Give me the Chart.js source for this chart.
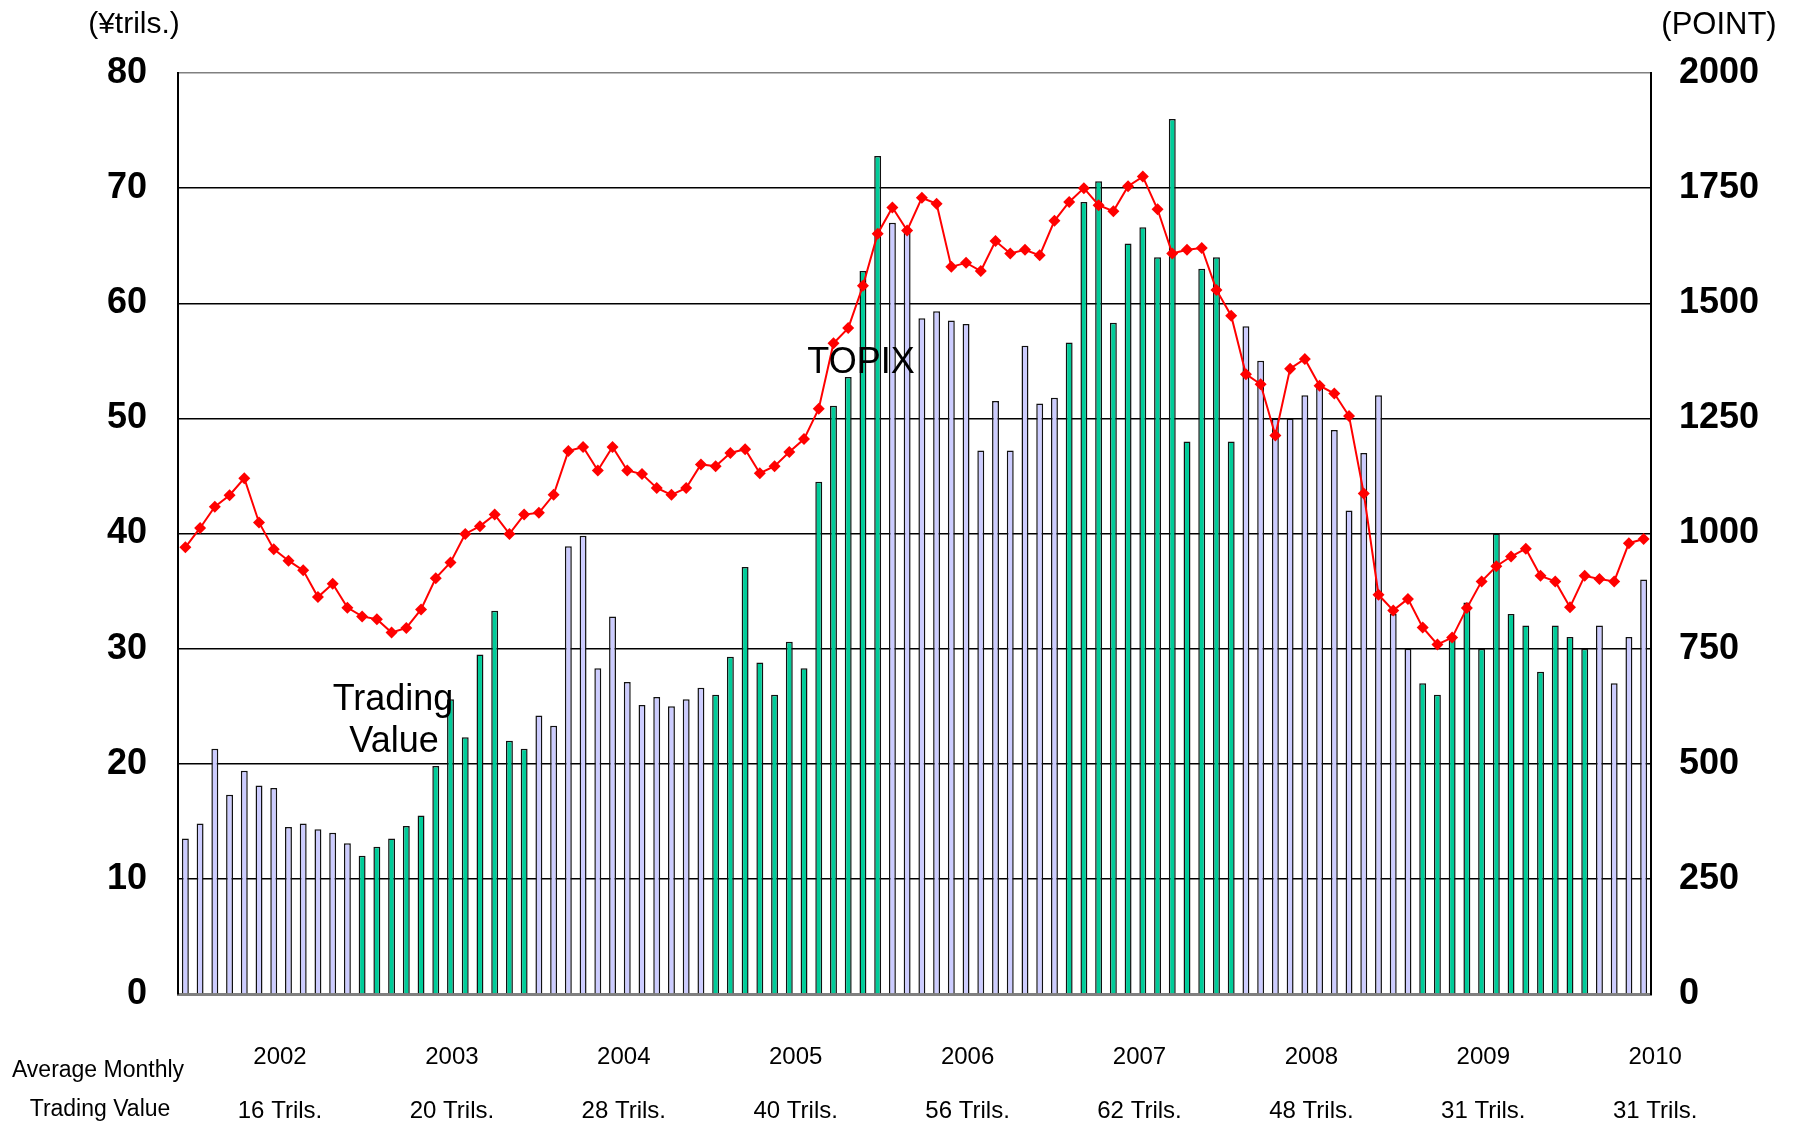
<!DOCTYPE html>
<html>
<head>
<meta charset="utf-8">
<script src="https://cdn.jsdelivr.net/npm/chart.js@4"></script>
<style>
  body { margin: 0; background: #fff; }
  canvas { display: block; }
</style>
</head>
<body>
<canvas id="chart" width="1794" height="1124"></canvas>
<script>
// monthly trading value (¥ trils.), Jan 2002 - Apr 2010
const tradingValue = [
  13.5, 14.8, 21.3, 17.3, 19.4, 18.1, 17.9, 14.5, 14.8, 14.3, 14.0, 13.1,
  12.0, 12.8, 13.5, 14.6, 15.5, 19.8, 25.6, 22.3, 29.5, 33.3, 22.0, 21.3,
  24.2, 23.3, 38.9, 39.8, 28.3, 32.8, 27.1, 25.1, 25.8, 25.0, 25.6, 26.6,
  26.0, 29.3, 37.1, 28.8, 26.0, 30.6, 28.3, 44.5, 51.1, 53.6, 62.8, 72.8,
  67.0, 66.3, 58.7, 59.3, 58.5, 58.2, 47.2, 51.5, 47.2, 56.3, 51.3, 51.8,
  56.6, 68.8, 70.6, 58.3, 65.2, 66.6, 64.0, 76.0, 48.0, 63.0, 64.0, 48.0,
  58.0, 55.0, 50.0, 50.0, 52.0, 52.7, 49.0, 42.0, 47.0, 52.0, 33.0, 30.0,
  27.0, 26.0, 30.9, 34.0, 30.0, 40.0, 33.0, 32.0, 28.0, 32.0, 31.0, 30.0,
  32.0, 27.0, 31.0, 36.0
];
// TOPIX month-end (points)
const topix = [
  970, 1012, 1058, 1083, 1120, 1024, 966, 941, 920, 862, 891, 839,
  820, 814, 785, 795, 835, 903, 937, 999, 1016, 1041, 999, 1041,
  1045, 1084, 1179, 1188, 1137, 1188, 1137, 1129, 1099, 1084, 1099, 1150,
  1146, 1175, 1183, 1131, 1146, 1177, 1205, 1271, 1413, 1446, 1538, 1651,
  1708, 1658, 1729, 1716, 1579, 1588, 1570, 1635, 1608, 1616, 1604, 1679,
  1720, 1750, 1713, 1700, 1754, 1775, 1704, 1608, 1616, 1620, 1529, 1473,
  1346, 1324, 1213, 1358, 1379, 1321, 1304, 1255, 1087, 867, 833, 858,
  796, 759, 774, 838, 896, 929, 950, 967, 908, 896, 840, 908,
  901, 896, 979, 988
];
const years = ['2002', '2003', '2004', '2005', '2006', '2007', '2008', '2009', '2010'];
const avgLabels = ['16 Trils.', '20 Trils.', '28 Trils.', '40 Trils.', '56 Trils.',
                   '62 Trils.', '48 Trils.', '31 Trils.', '31 Trils.'];

const months = tradingValue.map((v, i) => years[Math.floor(i / 12)] + '/' + (i % 12 + 1));
const barColors = months.map((m, i) => Math.floor(i / 12) % 2 === 0 ? '#ccccff' : '#00cc99');

const FONT = 'Arial, "Liberation Sans", sans-serif';
Chart.defaults.font.family = FONT;
Chart.defaults.color = '#000';

// texts around the plot
const textPlugin = {
  id: 'texts',
  afterDraw(chart) {
    const c = chart.ctx;
    c.save();
    c.fillStyle = '#000';
    c.textAlign = 'center';
    c.textBaseline = 'middle';
    c.font = '30px ' + FONT;
    c.fillText('(¥trils.)', 134, 25);
    c.font = '31px ' + FONT;
    c.fillText('(POINT)', 1719, 25);
    c.font = '36px ' + FONT;
    c.fillText('TOPIX', 861, 363);
    c.fillText('Trading', 393, 700);
    c.fillText('Value', 394, 742);
    c.font = '23px ' + FONT;
    c.fillText('Average Monthly', 98, 1071);
    c.fillText('Trading Value', 100, 1110);
    c.font = '24px ' + FONT;
    years.forEach((y, i) => {
      const x = 280 + i * 171.9;
      c.fillText(y, x, 1057);
      c.fillText(avgLabels[i], x, 1111);
    });
    c.restore();
  }
};

new Chart(document.getElementById('chart'), {
  data: {
    labels: months,
    datasets: [
      {
        type: 'line',
        label: 'TOPIX',
        data: topix,
        yAxisID: 'y1',
        order: 0,
        borderColor: '#ff0000',
        borderWidth: 2,
        pointStyle: 'rectRot',
        pointRadius: 6,
        pointBackgroundColor: '#ff0000',
        pointBorderColor: '#ff0000',
        pointBorderWidth: 0,
        tension: 0
      },
      {
        type: 'bar',
        label: 'Trading Value',
        data: tradingValue,
        yAxisID: 'y',
        order: 1,
        backgroundColor: barColors,
        borderColor: '#111',
        borderWidth: 1.5,
        barPercentage: 0.47,
        categoryPercentage: 1
      }
    ]
  },
  options: {
    responsive: false,
    animation: false,
    layout: { padding: { left: 0, right: 0, top: 73, bottom: 130 } },
    plugins: { legend: { display: false }, tooltip: { enabled: false } },
    scales: {
      x: {
        grid: { display: false },
        ticks: { display: false },
        border: { color: '#808080', width: 3 },
        afterFit(s) { s.height = 0; }
      },
      y: {
        position: 'left',
        min: 0, max: 80,
        ticks: { stepSize: 10, padding: 31, font: { size: 36, weight: 'bold' } },
        grid: {
          drawTicks: false,
          lineWidth: 1.5,
          color: ctx => ctx.tick.value === 80 ? '#808080' : (ctx.tick.value === 0 ? 'rgba(0,0,0,0)' : '#000')
        },
        border: { color: '#000', width: 2 },
        afterFit(s) { s.width = 178; }
      },
      y1: {
        position: 'right',
        min: 0, max: 2000,
        ticks: {
          stepSize: 250, padding: 28, font: { size: 36, weight: 'bold' },
          callback: v => String(v)
        },
        grid: { drawOnChartArea: false, drawTicks: false },
        border: { color: '#000', width: 2 },
        afterFit(s) { s.width = 143; }
      }
    }
  },
  plugins: [textPlugin]
});
</script>
</body>
</html>
